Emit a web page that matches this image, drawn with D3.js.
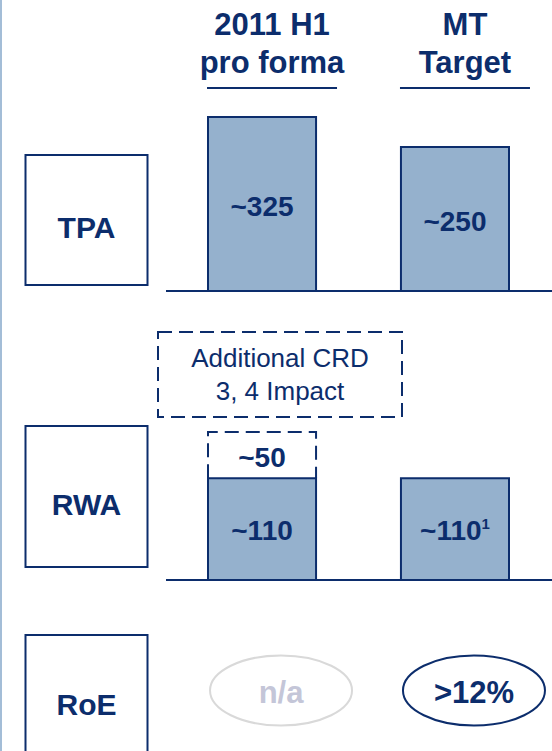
<!DOCTYPE html>
<html>
<head>
<meta charset="utf-8">
<script src="https://cdn.jsdelivr.net/npm/d3@7"></script>
<style>
  html, body { margin: 0; padding: 0; background: #ffffff; }
  svg { display: block; }
  text { font-family: "Liberation Sans", Arial, Helvetica, sans-serif; }
</style>
</head>
<body>
<svg id="chart" width="552" height="751"></svg>
<script>
// ---- data ----------------------------------------------------------------
const columnKeys   = ["h1", "mt"];
const columnTitles = [["2011 H1", "pro forma"], ["MT", "Target"]];
const metricNames  = ["TPA", "RWA", "RoE"];

const tpaValues = [325, 250];
const tpaLabels = ["~325", "~250"];

const rwaValues = [110, 110];
const rwaLabels = ["~110", "~110"];
const rwaNotes  = ["", "1"];

const crdImpact      = [50, 0];
const crdImpactLabel = ["~50", ""];
const crdNoteLines   = ["Additional CRD", "3, 4 Impact"];

const roeLabels    = ["n/a", ">12%"];
const roeAvailable = [false, true];

// ---- styling ---------------------------------------------------------------
const NAVY = "#0c2d6c";
const BAR_FILL = "#95b1cd";
const RULE_BLUE = "#a3bdd7";
const MUTED_STROKE = "#d9d9d9";
const MUTED_TEXT = "#c4c6d8";
const DASH = "14,7";

const svg = d3.select("#chart");

// thin rule down the left edge of the slide
svg.append("line")
  .attr("x1", 1).attr("x2", 1).attr("y1", 0).attr("y2", 751)
  .attr("stroke", RULE_BLUE).attr("stroke-width", 2);

// ---- scales ----------------------------------------------------------------
const x = d3.scaleBand()
  .domain(columnKeys)
  .range([208, 509])
  .paddingInner(0.44)
  .paddingOuter(0);

// TPA row: bars stand on a truncated floor so both fit in the row
const yTPA = d3.scaleLinear().domain([-110, 325]).range([291, 117]);
// RWA row: stacked bar (RWA + CRD impact)
const yRWA = d3.scaleLinear().domain([0, 160]).range([580, 432]);

// column centres for headers and RoE ovals (shifted right of the bars)
const headerCenter = k => x(k) + x.bandwidth() / 2 + 10;
const ovalCenter   = k => x(k) + x.bandwidth() / 2 + 19;

// ---- column headers ----------------------------------------------------------
const headers = svg.append("g").selectAll("g")
  .data(columnKeys)
  .join("g");

headers.append("text")
  .attr("x", k => headerCenter(k))
  .attr("y", 35)
  .attr("text-anchor", "middle")
  .attr("font-size", 31)
  .attr("font-weight", "bold")
  .attr("fill", NAVY)
  .text((k, i) => columnTitles[i][0]);

headers.append("text")
  .attr("x", k => headerCenter(k))
  .attr("y", 73)
  .attr("text-anchor", "middle")
  .attr("font-size", 31)
  .attr("font-weight", "bold")
  .attr("fill", NAVY)
  .text((k, i) => columnTitles[i][1]);

headers.append("line")
  .attr("x1", k => headerCenter(k) - 65)
  .attr("x2", k => headerCenter(k) + 65)
  .attr("y1", 88).attr("y2", 88)
  .attr("stroke", NAVY).attr("stroke-width", 2);

// ---- metric boxes ------------------------------------------------------------
const metricBoxes = [
  { y: 155, h: 130, base: 238 },
  { y: 426, h: 141, base: 515 },
  { y: 635, h: 150, base: 715 }
];

const mb = svg.append("g").selectAll("g")
  .data(metricNames)
  .join("g");

mb.append("rect")
  .attr("x", 25.5)
  .attr("y", (d, i) => metricBoxes[i].y)
  .attr("width", 122)
  .attr("height", (d, i) => metricBoxes[i].h)
  .attr("fill", "#ffffff")
  .attr("stroke", NAVY)
  .attr("stroke-width", 2);

mb.append("text")
  .attr("x", 86.5)
  .attr("y", (d, i) => metricBoxes[i].base)
  .attr("text-anchor", "middle")
  .attr("font-size", 30)
  .attr("font-weight", "bold")
  .attr("fill", NAVY)
  .text(d => d);

// ---- TPA bars ----------------------------------------------------------------
const tpa = svg.append("g");

tpa.selectAll("rect")
  .data(tpaValues)
  .join("rect")
  .attr("x", (d, i) => x(columnKeys[i]))
  .attr("y", d => yTPA(d))
  .attr("width", x.bandwidth())
  .attr("height", d => yTPA(yTPA.domain()[0]) - yTPA(d))
  .attr("fill", BAR_FILL)
  .attr("stroke", NAVY)
  .attr("stroke-width", 2);

tpa.selectAll("text")
  .data(tpaValues)
  .join("text")
  .attr("x", (d, i) => x(columnKeys[i]) + x.bandwidth() / 2)
  .attr("y", d => (yTPA(d) + yTPA.range()[0]) / 2 + 12)
  .attr("text-anchor", "middle")
  .attr("font-size", 28)
  .attr("font-weight", "bold")
  .attr("fill", NAVY)
  .text((d, i) => tpaLabels[i]);

tpa.append("line")
  .attr("x1", 166).attr("x2", 552)
  .attr("y1", yTPA.range()[0]).attr("y2", yTPA.range()[0])
  .attr("stroke", NAVY).attr("stroke-width", 2);

// ---- RWA bars ----------------------------------------------------------------
const rwa = svg.append("g");

// CRD 3/4 note box above the row
rwa.append("rect")
  .attr("x", 158).attr("y", 332)
  .attr("width", 244).attr("height", 85)
  .attr("fill", "none")
  .attr("stroke", NAVY)
  .attr("stroke-width", 2)
  .attr("stroke-dasharray", DASH);

rwa.selectAll("text.note")
  .data(crdNoteLines)
  .join("text")
  .attr("class", "note")
  .attr("x", 280)
  .attr("y", (d, i) => 367 + i * 33)
  .attr("text-anchor", "middle")
  .attr("font-size", 26)
  .attr("fill", NAVY)
  .text(d => d);

// dashed increment stacked on top of each bar
const impact = rwa.selectAll("g.impact")
  .data(crdImpact.map((v, i) => ({ v, i })).filter(d => d.v > 0))
  .join("g")
  .attr("class", "impact");

impact.append("path")
  .attr("d", d => {
    const x0 = x(columnKeys[d.i]), x1 = x0 + x.bandwidth();
    const yb = yRWA(rwaValues[d.i]), yt = yRWA(rwaValues[d.i] + d.v);
    return `M${x0},${yb}V${yt}H${x1}V${yb}`;
  })
  .attr("fill", "#ffffff")
  .attr("stroke", NAVY)
  .attr("stroke-width", 2)
  .attr("stroke-dasharray", DASH);

impact.append("text")
  .attr("x", d => x(columnKeys[d.i]) + x.bandwidth() / 2)
  .attr("y", d => (yRWA(rwaValues[d.i]) + yRWA(rwaValues[d.i] + d.v)) / 2 + 12)
  .attr("text-anchor", "middle")
  .attr("font-size", 28)
  .attr("font-weight", "bold")
  .attr("fill", NAVY)
  .text(d => crdImpactLabel[d.i]);

rwa.selectAll("rect.bar")
  .data(rwaValues)
  .join("rect")
  .attr("class", "bar")
  .attr("x", (d, i) => x(columnKeys[i]))
  .attr("y", d => yRWA(d))
  .attr("width", x.bandwidth())
  .attr("height", d => yRWA(0) - yRWA(d))
  .attr("fill", BAR_FILL)
  .attr("stroke", NAVY)
  .attr("stroke-width", 2);

const rwaText = rwa.selectAll("text.val")
  .data(rwaValues)
  .join("text")
  .attr("class", "val")
  .attr("x", (d, i) => x(columnKeys[i]) + x.bandwidth() / 2)
  .attr("y", d => (yRWA(d) + yRWA(0)) / 2 + 11)
  .attr("text-anchor", "middle")
  .attr("font-size", 28)
  .attr("font-weight", "bold")
  .attr("fill", NAVY);

rwaText.append("tspan").text((d, i) => rwaLabels[i]);
rwaText.append("tspan")
  .attr("font-size", 15)
  .attr("dy", -11)
  .text((d, i) => rwaNotes[i]);

rwa.append("line")
  .attr("x1", 166).attr("x2", 552)
  .attr("y1", yRWA(0)).attr("y2", yRWA(0))
  .attr("stroke", NAVY).attr("stroke-width", 2);

// ---- RoE ovals -----------------------------------------------------------------
const roe = svg.append("g").selectAll("g")
  .data(roeLabels)
  .join("g");

roe.append("ellipse")
  .attr("cx", (d, i) => ovalCenter(columnKeys[i]))
  .attr("cy", 690.5)
  .attr("rx", 71)
  .attr("ry", 35)
  .attr("fill", "#ffffff")
  .attr("stroke", (d, i) => roeAvailable[i] ? NAVY : MUTED_STROKE)
  .attr("stroke-width", 2);

roe.append("text")
  .attr("x", (d, i) => ovalCenter(columnKeys[i]))
  .attr("y", 703)
  .attr("text-anchor", "middle")
  .attr("font-size", 31)
  .attr("font-weight", "bold")
  .attr("fill", (d, i) => roeAvailable[i] ? NAVY : MUTED_TEXT)
  .text(d => d);
</script>
</body>
</html>
